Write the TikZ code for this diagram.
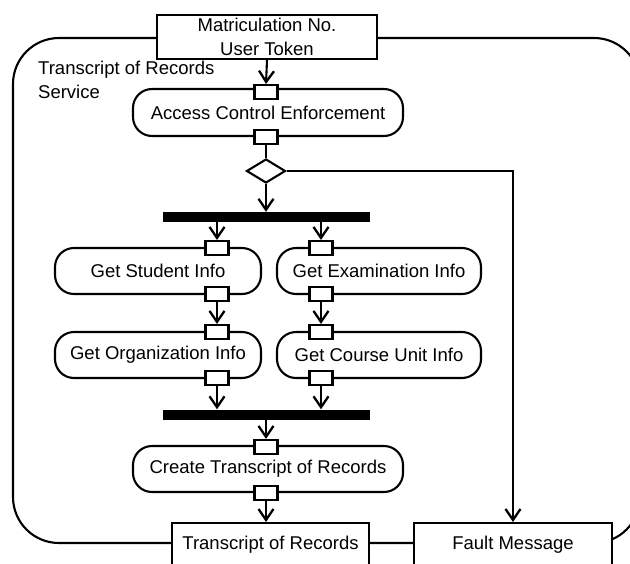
\documentclass[tikz,border=0pt]{standalone}
\usepackage{fontspec}
\setmainfont{Liberation Sans}
\usetikzlibrary{arrows.meta,shapes.geometric}
\begin{document}
\begin{tikzpicture}[x=1pt,y=-1pt,
  every node/.style={font=\fontsize{18.5pt}{24pt}\selectfont, inner sep=0pt},
  ln/.style={line width=2.1pt},
  arr/.style={ln,-{Straight Barb[length=11pt,width=15pt,line width=2.3pt]}},
  action/.style={draw,ln,rounded corners=19pt,fill=white},
  pinbox/.style={draw,ln,fill=white,minimum width=23pt,minimum height=14pt},
  objbox/.style={draw,ln,fill=white},
  forkbar/.style={fill=black,minimum width=207pt,minimum height=10pt},
  decision/.style={draw,ln,fill=white,diamond,minimum width=39pt,minimum height=24pt}
]
\useasboundingbox (0,0) rectangle (630,563);
\clip (0,0) rectangle (630,563);
% frame
\draw[ln,rounded corners=46pt] (13,38) rectangle (640,543);
\node[anchor=north west,align=left] (svc) at (38,61) {Transcript of Records\\Service};
% input object
\node[objbox,minimum width=220pt,minimum height=44pt,align=center] (matric) at (267,37) {Matriculation No.\\User Token};
% access control
\node[action,minimum width=270pt,minimum height=47pt] (acc) at (268,112.5) {Access Control Enforcement};
\node[pinbox] (accin) at (266,92) {};
\node[pinbox] (accout) at (266,137) {};
\node[decision] (dia) at (266,171) {};
\node[forkbar] (bar1) at (266.5,217) {};
% student / org
\node[action,minimum width=206pt,minimum height=46pt] (stu) at (158,271) {Get Student Info};
\node[pinbox] (stuin) at (217,248) {};
\node[pinbox] (stuout) at (217,294) {};
\node[action,minimum width=206pt,minimum height=46pt] (org) at (158,355) {Get Organization Info};
\node[pinbox] (orgin) at (217,332) {};
\node[pinbox] (orgout) at (217,378) {};
% exam / course
\node[action,minimum width=204pt,minimum height=46pt] (exa) at (379,271) {Get Examination Info};
\node[pinbox] (exain) at (321,248) {};
\node[pinbox] (exaout) at (321,294) {};
\node[action,minimum width=204pt,minimum height=46pt] (cou) at (379,355) {Get Course Unit Info};
\node[pinbox] (couin) at (321,332) {};
\node[pinbox] (couout) at (321,378) {};
\node[forkbar] (bar2) at (266.5,414.5) {};
% create
\node[action,minimum width=270pt,minimum height=46pt] (cre) at (268,469) {Create Transcript of Records};
\node[pinbox] (crein) at (266,447) {};
\node[pinbox] (creout) at (266,493) {};
% outputs
\node[objbox,minimum width=197pt,minimum height=50pt,anchor=north] (tor) at (270.5,522) {};
\node (tortxt) at (270.5,545) {Transcript of Records};
\node[objbox,minimum width=198pt,minimum height=50pt,anchor=north] (fault) at (513,522) {};
\node (faulttxt) at (513,545) {Fault Message};
% connectors
\draw[arr] (matric.south) -- (accin.north);
\draw[ln] (accout.south) -- (dia.north);
\draw[arr] (dia.south) -- (bar1.north -| dia.south);
\draw[arr] (bar1.south -| stuin.north) -- (stuin.north);
\draw[arr] (bar1.south -| exain.north) -- (exain.north);
\draw[arr] (stuout.south) -- (orgin.north);
\draw[arr] (exaout.south) -- (couin.north);
\draw[arr] (orgout.south) -- (bar2.north -| orgout.south);
\draw[arr] (couout.south) -- (bar2.north -| couout.south);
\draw[arr] (bar2.south -| crein.north) -- (crein.north);
\draw[arr] (creout.south) -- (creout.south |- tor.north);
\draw[arr] (dia.east) -| (fault.north);
\end{tikzpicture}
\end{document}
